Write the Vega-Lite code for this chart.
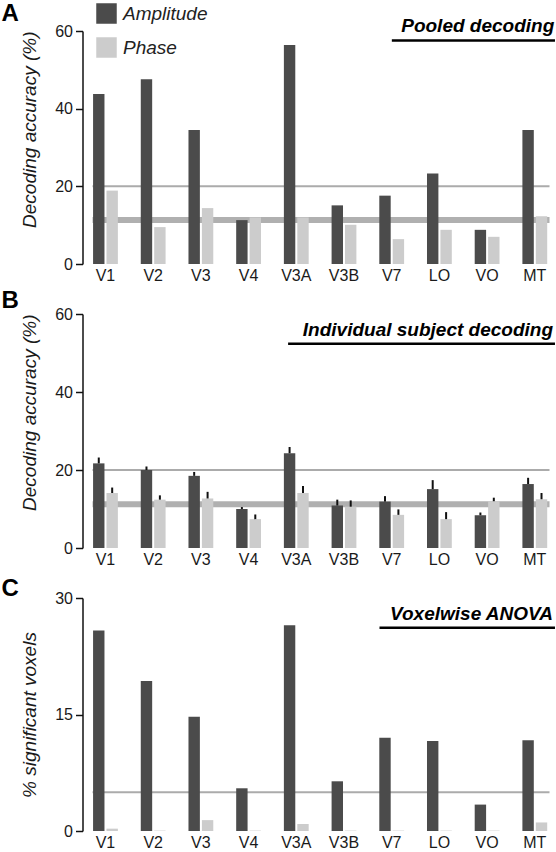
{
  "$schema": "https://vega.github.io/schema/vega-lite/v6.json",
  "background": "white",
  "padding": {"left": 1.5, "top": 1, "right": 0, "bottom": 0},
  "datasets": {
    "pooled": [
      {"area": "V1", "feature": "Amplitude", "value": 43.8}, {"area": "V1", "feature": "Phase", "value": 18.9},
      {"area": "V2", "feature": "Amplitude", "value": 47.6}, {"area": "V2", "feature": "Phase", "value": 9.5},
      {"area": "V3", "feature": "Amplitude", "value": 34.5}, {"area": "V3", "feature": "Phase", "value": 14.4},
      {"area": "V4", "feature": "Amplitude", "value": 11.3}, {"area": "V4", "feature": "Phase", "value": 12.0},
      {"area": "V3A", "feature": "Amplitude", "value": 56.4}, {"area": "V3A", "feature": "Phase", "value": 12.0},
      {"area": "V3B", "feature": "Amplitude", "value": 15.1}, {"area": "V3B", "feature": "Phase", "value": 10.1},
      {"area": "V7", "feature": "Amplitude", "value": 17.6}, {"area": "V7", "feature": "Phase", "value": 6.4},
      {"area": "LO", "feature": "Amplitude", "value": 23.3}, {"area": "LO", "feature": "Phase", "value": 8.8},
      {"area": "VO", "feature": "Amplitude", "value": 8.8}, {"area": "VO", "feature": "Phase", "value": 7.0},
      {"area": "MT", "feature": "Amplitude", "value": 34.5}, {"area": "MT", "feature": "Phase", "value": 12.3}
    ],
    "individual": [
      {"area": "V1", "feature": "Amplitude", "value": 21.7, "upper": 23.2}, {"area": "V1", "feature": "Phase", "value": 14.1, "upper": 15.5},
      {"area": "V2", "feature": "Amplitude", "value": 20.0, "upper": 20.9}, {"area": "V2", "feature": "Phase", "value": 12.4, "upper": 13.5},
      {"area": "V3", "feature": "Amplitude", "value": 18.5, "upper": 19.5}, {"area": "V3", "feature": "Phase", "value": 12.7, "upper": 14.4},
      {"area": "V4", "feature": "Amplitude", "value": 10.0, "upper": 10.5}, {"area": "V4", "feature": "Phase", "value": 7.4, "upper": 8.6},
      {"area": "V3A", "feature": "Amplitude", "value": 24.3, "upper": 25.9}, {"area": "V3A", "feature": "Phase", "value": 14.1, "upper": 15.9},
      {"area": "V3B", "feature": "Amplitude", "value": 10.9, "upper": 12.4}, {"area": "V3B", "feature": "Phase", "value": 10.6, "upper": 12.2},
      {"area": "V7", "feature": "Amplitude", "value": 11.9, "upper": 13.3}, {"area": "V7", "feature": "Phase", "value": 8.5, "upper": 9.9},
      {"area": "LO", "feature": "Amplitude", "value": 15.1, "upper": 17.4}, {"area": "LO", "feature": "Phase", "value": 7.4, "upper": 9.2},
      {"area": "VO", "feature": "Amplitude", "value": 8.4, "upper": 9.1}, {"area": "VO", "feature": "Phase", "value": 12.0, "upper": 12.9},
      {"area": "MT", "feature": "Amplitude", "value": 16.4, "upper": 18.0}, {"area": "MT", "feature": "Phase", "value": 12.5, "upper": 14.1}
    ],
    "anova": [
      {"area": "V1", "feature": "Amplitude", "value": 25.8}, {"area": "V1", "feature": "Phase", "value": 0.3},
      {"area": "V2", "feature": "Amplitude", "value": 19.3}, {"area": "V2", "feature": "Phase", "value": 0.05},
      {"area": "V3", "feature": "Amplitude", "value": 14.7}, {"area": "V3", "feature": "Phase", "value": 1.4},
      {"area": "V4", "feature": "Amplitude", "value": 5.5}, {"area": "V4", "feature": "Phase", "value": 0.05},
      {"area": "V3A", "feature": "Amplitude", "value": 26.5}, {"area": "V3A", "feature": "Phase", "value": 0.9},
      {"area": "V3B", "feature": "Amplitude", "value": 6.4}, {"area": "V3B", "feature": "Phase", "value": 0.05},
      {"area": "V7", "feature": "Amplitude", "value": 12.0}, {"area": "V7", "feature": "Phase", "value": 0.05},
      {"area": "LO", "feature": "Amplitude", "value": 11.6}, {"area": "LO", "feature": "Phase", "value": 0.05},
      {"area": "VO", "feature": "Amplitude", "value": 3.4}, {"area": "VO", "feature": "Phase", "value": 0.05},
      {"area": "MT", "feature": "Amplitude", "value": 11.7}, {"area": "MT", "feature": "Phase", "value": 1.1}
    ]
  },
  "spacing": 50,
  "bounds": "flush",
  "resolve": {"scale": {"color": "independent"}, "legend": {"color": "independent"}},
  "vconcat": [
    {
      "width": 457,
      "height": 233,
      "data": {"name": "pooled"},
      "resolve": {"scale": {"x": "independent"}},
      "layer": [
        {"data": {"values": [{}]}, "mark": {"type": "rule", "color": "#b0b0b0", "strokeWidth": 6}, "encoding": {"y": {"datum": 11.3, "type": "quantitative", "scale": {"domain": [0, 60]}}}},
        {"data": {"values": [{}]}, "mark": {"type": "rule", "color": "#ababab", "strokeWidth": 2}, "encoding": {"y": {"datum": 20, "type": "quantitative", "scale": {"domain": [0, 60]}}}},
        {
          "mark": "bar",
          "encoding": {
            "x": {"field": "area", "type": "nominal", "sort": ["V1", "V2", "V3", "V4", "V3A", "V3B", "V7", "LO", "VO", "MT"], "scale": {"paddingInner": 0.48, "paddingOuter": 0.03, "align": 0.2}, "axis": {"title": null}},
            "xOffset": {"field": "feature", "type": "nominal", "sort": ["Amplitude", "Phase"], "scale": {"paddingInner": 0.15, "paddingOuter": 0}},
            "y": {"field": "value", "type": "quantitative", "scale": {"domain": [0, 60]}, "axis": {"values": [0, 20, 40, 60], "title": "Decoding accuracy (%)", "titleAnchor": "end"}},
            "color": {"field": "feature", "type": "nominal", "scale": {"domain": ["Amplitude", "Phase"], "range": ["#4b4b4b", "#cccccc"]},
              "legend": {"orient": "none", "legendX": 3.5, "legendY": -28, "title": null, "symbolType": "square", "symbolSize": 420, "symbolStrokeWidth": 0, "symbolOpacity": 1, "labelFontSize": 19, "labelFontStyle": "italic", "labelColor": "#222", "labelOffset": 6, "rowPadding": 13, "padding": 0}}
          }
        },
        {"data": {"values": [{}]}, "mark": {"type": "text", "text": "A", "align": "left", "baseline": "alphabetic", "fontSize": 24, "fontWeight": "bold", "color": "#000"},
          "encoding": {"x": {"datum": -0.1991, "type": "quantitative", "scale": {"domain": [0, 1]}, "axis": null}, "y": {"datum": 62.58, "type": "quantitative", "scale": {"domain": [0, 60]}}}},
        {"data": {"values": [{}]}, "mark": {"type": "text", "text": "Pooled decoding", "align": "right", "baseline": "alphabetic", "fontSize": 19, "fontWeight": "bold", "fontStyle": "italic", "color": "#000"},
          "encoding": {"x": {"datum": 1.0105, "type": "quantitative", "scale": {"domain": [0, 1]}, "axis": null}, "y": {"datum": 59.82, "type": "quantitative", "scale": {"domain": [0, 60]}}}},
        {"data": {"values": [{}]}, "mark": {"type": "rule", "color": "#000", "strokeWidth": 2.5},
          "encoding": {"x": {"datum": 0.655, "type": "quantitative", "scale": {"domain": [0, 1]}, "axis": null}, "x2": {"datum": 1.012}, "y": {"datum": 57.55, "type": "quantitative", "scale": {"domain": [0, 60]}}}}
      ]
    },
    {
      "width": 457,
      "height": 234,
      "data": {"name": "individual"},
      "resolve": {"scale": {"x": "independent"}},
      "layer": [
        {"data": {"values": [{}]}, "mark": {"type": "rule", "color": "#b0b0b0", "strokeWidth": 6}, "encoding": {"y": {"datum": 11.2, "type": "quantitative", "scale": {"domain": [0, 60]}}}},
        {"data": {"values": [{}]}, "mark": {"type": "rule", "color": "#ababab", "strokeWidth": 2}, "encoding": {"y": {"datum": 20, "type": "quantitative", "scale": {"domain": [0, 60]}}}},
        {
          "encoding": {
            "x": {"field": "area", "type": "nominal", "sort": ["V1", "V2", "V3", "V4", "V3A", "V3B", "V7", "LO", "VO", "MT"], "scale": {"paddingInner": 0.48, "paddingOuter": 0.03, "align": 0.2}, "axis": {"title": null}},
            "xOffset": {"field": "feature", "type": "nominal", "sort": ["Amplitude", "Phase"], "scale": {"paddingInner": 0.15, "paddingOuter": 0}}
          },
          "layer": [
            {
              "mark": "bar",
              "encoding": {
                "y": {"field": "value", "type": "quantitative", "scale": {"domain": [0, 60]}, "axis": {"values": [0, 20, 40, 60], "title": "Decoding accuracy (%)", "titleAnchor": "end"}},
                "color": {"field": "feature", "type": "nominal", "scale": {"domain": ["Amplitude", "Phase"], "range": ["#4b4b4b", "#cccccc"]}, "legend": null}
              }
            },
            {
              "mark": {"type": "rule", "color": "#111111", "strokeWidth": 2},
              "encoding": {
                "y": {"field": "value", "type": "quantitative"},
                "y2": {"field": "upper"}
              }
            }
          ]
        },
        {"data": {"values": [{}]}, "mark": {"type": "text", "text": "B", "align": "left", "baseline": "alphabetic", "fontSize": 24, "fontWeight": "bold", "color": "#000"},
          "encoding": {"x": {"datum": -0.1991, "type": "quantitative", "scale": {"domain": [0, 1]}, "axis": null}, "y": {"datum": 61.54, "type": "quantitative", "scale": {"domain": [0, 60]}}}},
        {"data": {"values": [{}]}, "mark": {"type": "text", "text": "Individual subject decoding", "align": "right", "baseline": "alphabetic", "fontSize": 19, "fontWeight": "bold", "fontStyle": "italic", "color": "#000"},
          "encoding": {"x": {"datum": 1.0077, "type": "quantitative", "scale": {"domain": [0, 1]}, "axis": null}, "y": {"datum": 54.36, "type": "quantitative", "scale": {"domain": [0, 60]}}}},
        {"data": {"values": [{}]}, "mark": {"type": "rule", "color": "#000", "strokeWidth": 2.5},
          "encoding": {"x": {"datum": 0.428, "type": "quantitative", "scale": {"domain": [0, 1]}, "axis": null}, "x2": {"datum": 1.012}, "y": {"datum": 52.38, "type": "quantitative", "scale": {"domain": [0, 60]}}}}
      ]
    },
    {
      "width": 457,
      "height": 233,
      "data": {"name": "anova"},
      "resolve": {"scale": {"x": "independent"}},
      "layer": [
        {"data": {"values": [{}]}, "mark": {"type": "rule", "color": "#ababab", "strokeWidth": 2}, "encoding": {"y": {"datum": 5, "type": "quantitative", "scale": {"domain": [0, 30]}}}},
        {
          "mark": "bar",
          "encoding": {
            "x": {"field": "area", "type": "nominal", "sort": ["V1", "V2", "V3", "V4", "V3A", "V3B", "V7", "LO", "VO", "MT"], "scale": {"paddingInner": 0.48, "paddingOuter": 0.03, "align": 0.2}, "axis": {"title": null}},
            "xOffset": {"field": "feature", "type": "nominal", "sort": ["Amplitude", "Phase"], "scale": {"paddingInner": 0.15, "paddingOuter": 0}},
            "y": {"field": "value", "type": "quantitative", "scale": {"domain": [0, 30]}, "axis": {"values": [0, 15, 30], "title": "% significant voxels", "titleAnchor": "middle"}},
            "color": {"field": "feature", "type": "nominal", "scale": {"domain": ["Amplitude", "Phase"], "range": ["#4b4b4b", "#cccccc"]}, "legend": null}
          }
        },
        {"data": {"values": [{}]}, "mark": {"type": "text", "text": "C", "align": "left", "baseline": "alphabetic", "fontSize": 24, "fontWeight": "bold", "color": "#000"},
          "encoding": {"x": {"datum": -0.1991, "type": "quantitative", "scale": {"domain": [0, 1]}, "axis": null}, "y": {"datum": 30.26, "type": "quantitative", "scale": {"domain": [0, 30]}}}},
        {"data": {"values": [{}]}, "mark": {"type": "text", "text": "Voxelwise ANOVA", "align": "right", "baseline": "alphabetic", "fontSize": 19, "fontWeight": "bold", "fontStyle": "italic", "color": "#000"},
          "encoding": {"x": {"datum": 1.0077, "type": "quantitative", "scale": {"domain": [0, 1]}, "axis": null}, "y": {"datum": 27.13, "type": "quantitative", "scale": {"domain": [0, 30]}}}},
        {"data": {"values": [{}]}, "mark": {"type": "rule", "color": "#000", "strokeWidth": 2.5},
          "encoding": {"x": {"datum": 0.628, "type": "quantitative", "scale": {"domain": [0, 1]}, "axis": null}, "x2": {"datum": 1.012}, "y": {"datum": 26.18, "type": "quantitative", "scale": {"domain": [0, 30]}}}}
      ]
    }
  ],
  "config": {
    "font": "Liberation Sans",
    "view": {"stroke": null},
    "axis": {"labelColor": "#1a1a1a", "titleColor": "#1a1a1a", "grid": false},
    "axisY": {"domainColor": "#111111", "domainWidth": 1.5, "tickColor": "#111111", "tickWidth": 1.5, "tickSize": 7, "labelFontSize": 16, "labelPadding": 3, "offset": 10, "titleFontSize": 19, "titleFontStyle": "italic", "titleFontWeight": "normal", "titlePadding": 15},
    "axisX": {"domain": false, "ticks": false, "labelFontSize": 16, "labelPadding": 3, "labelAngle": 0}
  }
}
